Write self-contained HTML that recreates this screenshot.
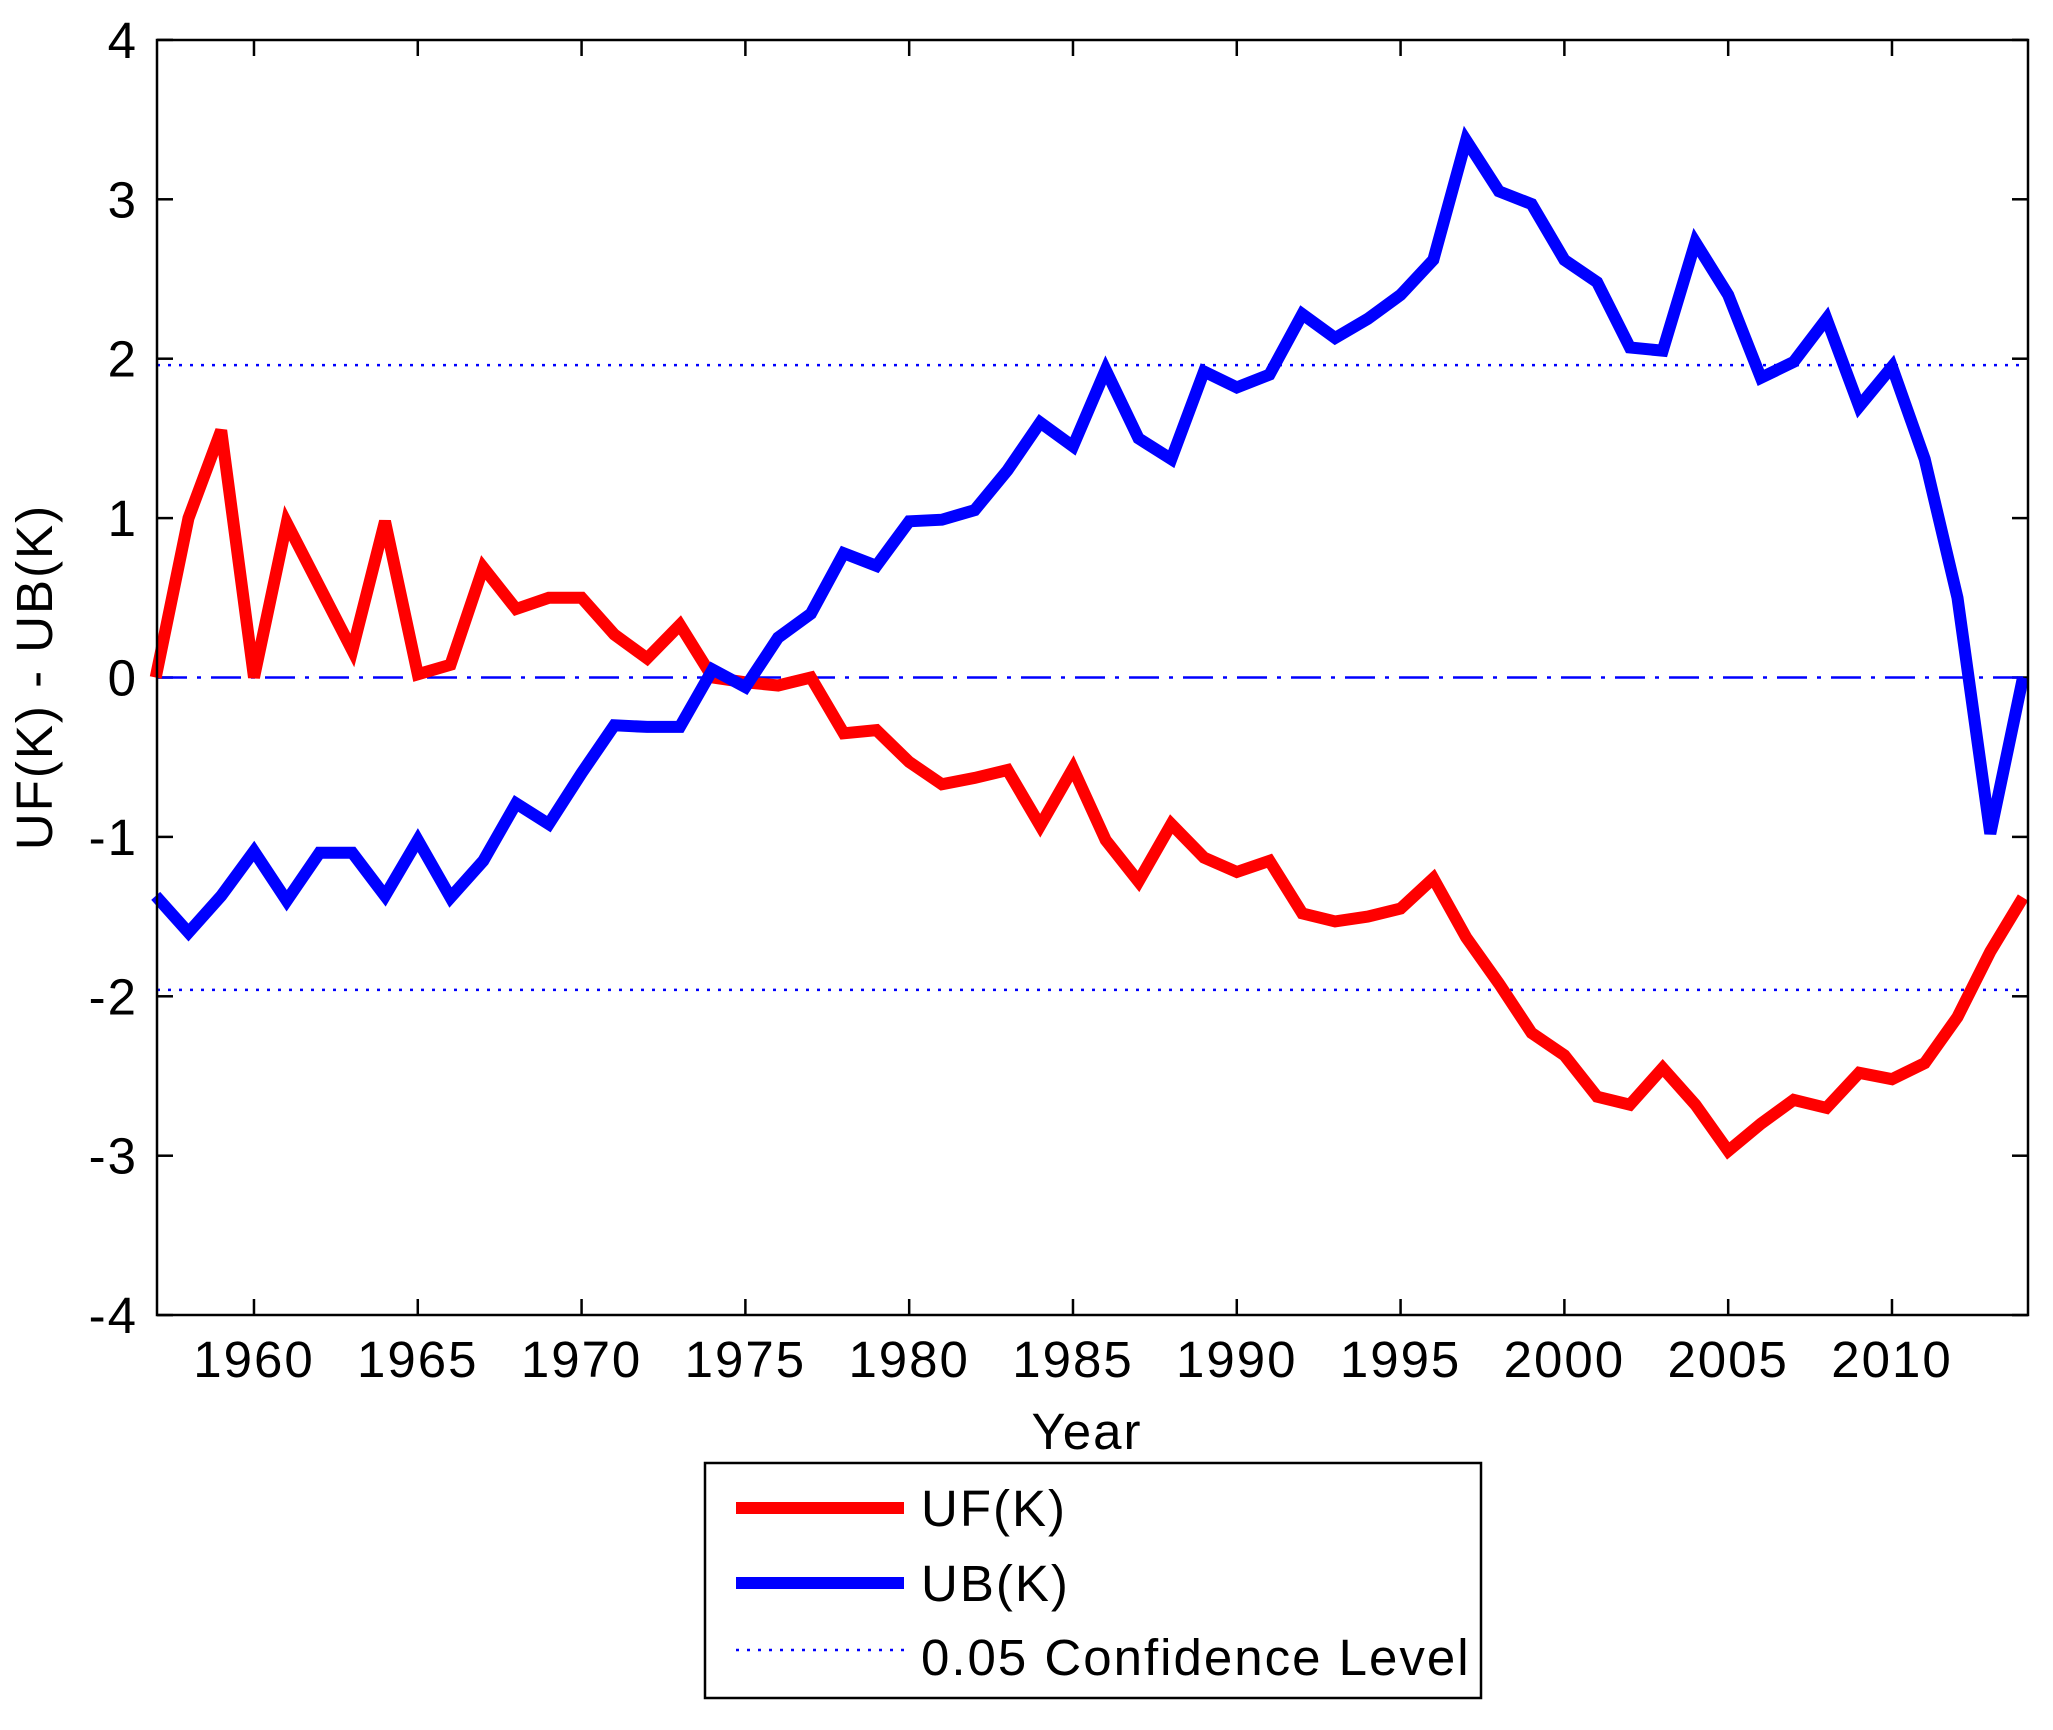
<!DOCTYPE html>
<html><head><meta charset="utf-8"><style>
body{margin:0;background:#fff;}
svg text{font-family:"Liberation Sans",sans-serif;fill:#000;letter-spacing:2px;}
</style></head><body>
<svg id="chart" width="2053" height="1725" xmlns="http://www.w3.org/2000/svg">
<g id="grid"></g>
<g id="marks"></g>
<rect x="157" y="40" width="1871" height="1275" fill="none" stroke="#000" stroke-width="2.5"/>
<text transform="translate(52,677) rotate(-90)" text-anchor="middle" font-size="51">UF(K) - UB(K)</text>
<text x="1087" y="1449" text-anchor="middle" font-size="51">Year</text>
<g>
<rect x="705" y="1463" width="776" height="235" fill="#fff" stroke="#000" stroke-width="2.5"/>
<line x1="736" y1="1508" x2="904" y2="1508" stroke="#ff0000" stroke-width="12"/>
<text x="921" y="1526" font-size="51">UF(K)</text>
<line x1="736" y1="1583" x2="904" y2="1583" stroke="#0000ff" stroke-width="12"/>
<text x="921" y="1601" font-size="51">UB(K)</text>
<line x1="736" y1="1650" x2="904" y2="1650" stroke="#0000ff" stroke-width="2.5" stroke-dasharray="3,8"/>
<text x="921" y="1675" font-size="51">0.05 Confidence Level</text>
</g>
</svg>
<script>
const years = [];
for (let y = 1957; y <= 2014; y++) years.push(y);
const ufValues = [0,1.0,1.55,0,0.97,0.57,0.17,0.98,0.02,0.08,0.69,0.43,0.5,0.5,0.27,0.12,0.33,0,-0.03,-0.05,0,-0.35,-0.33,-0.53,-0.67,-0.63,-0.58,-0.93,-0.57,-1.02,-1.28,-0.92,-1.13,-1.22,-1.15,-1.48,-1.53,-1.5,-1.45,-1.26,-1.63,-1.92,-2.23,-2.37,-2.63,-2.68,-2.45,-2.68,-2.97,-2.8,-2.65,-2.7,-2.48,-2.52,-2.42,-2.13,-1.72,-1.38];
const ubValues = [-1.37,-1.6,-1.37,-1.09,-1.4,-1.1,-1.1,-1.37,-1.02,-1.38,-1.15,-0.79,-0.92,-0.6,-0.3,-0.31,-0.31,0.05,-0.06,0.25,0.4,0.78,0.7,0.98,0.99,1.05,1.3,1.6,1.45,1.93,1.5,1.37,1.92,1.82,1.9,2.28,2.13,2.25,2.4,2.62,3.37,3.05,2.97,2.62,2.48,2.07,2.05,2.73,2.4,1.88,1.98,2.25,1.7,1.95,1.37,0.5,-0.98,0];
const xTicks = [1960,1965,1970,1975,1980,1985,1990,1995,2000,2005,2010];
const yTicks = [-4,-3,-2,-1,0,1,2,3,4];
const confidence = [1.96,-1.96];

const L=157,R=2028,T=40,B=1315;
const xs = yr => 155.7 + (yr-1957)*32.76;
const ys = v => 677.5 - v*159.4;
const NS="http://www.w3.org/2000/svg";
const grid=document.getElementById('grid'), marks=document.getElementById('marks');
function mk(tag,attrs,parent){const e=document.createElementNS(NS,tag);for(const k in attrs)e.setAttribute(k,attrs[k]);parent.appendChild(e);return e;}

xTicks.forEach(t=>{
  const x=xs(t);
  let l=mk('line',{x1:x,y1:B,x2:x,y2:B-16,stroke:'#000','stroke-width':2.5},grid);
  
  
  let l2=mk('line',{x1:x,y1:T,x2:x,y2:T+16,stroke:'#000','stroke-width':2.5},grid);
  
  
  let tx=mk('text',{x:x,y:1377,'text-anchor':'middle','font-size':51},grid);
  tx.textContent=t;
  
  
});
yTicks.forEach(t=>{
  const y=ys(t);
  let l=mk('line',{x1:L,y1:y,x2:L+16,y2:y,stroke:'#000','stroke-width':2.5},grid);
  
  
  let l2=mk('line',{x1:R,y1:y,x2:R-16,y2:y,stroke:'#000','stroke-width':2.5},grid);
  
  
  let tx=mk('text',{x:138,y:y+18,'text-anchor':'end','font-size':51},grid);
  tx.textContent=t;
  
  
});
confidence.forEach(c=>{
  let l=mk('line',{x1:L,y1:ys(c),x2:R,y2:ys(c),stroke:'#0000ff','stroke-width':2.5,'stroke-dasharray':'3,8'},marks);
  
  
});
let z=mk('line',{x1:L,y1:ys(0),x2:R,y2:ys(0),stroke:'#0000ff','stroke-width':2.5,'stroke-dasharray':'30,10,4,10'},marks);


function series(vals,color,name){
  const d=vals.map((v,i)=>(i?'L':'M')+xs(years[i]).toFixed(1)+','+ys(v).toFixed(1)).join(' ');
  let p=mk('path',{d:d,fill:'none',stroke:color,'stroke-width':12,'stroke-linejoin':'miter','stroke-miterlimit':3},marks);
  
  
}
series(ufValues,'#ff0000','uf-line');
series(ubValues,'#0000ff','ub-line');
</script>
</body></html>
